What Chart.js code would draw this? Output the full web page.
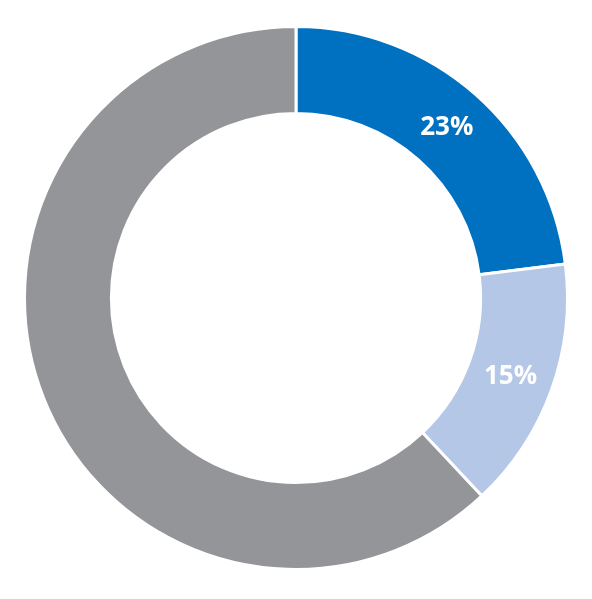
<!DOCTYPE html>
<html>
<head>
<meta charset="utf-8">
<script src="https://cdn.jsdelivr.net/npm/chart.js@4"></script>
<style>
  html, body { margin: 0; padding: 0; background: #fff; }
</style>
</head>
<body>
<canvas id="donut" width="592" height="599"></canvas>
<script>
// values
var categories = ['A', 'B', 'Other'];
var shares = [23, 15, 62];
var sliceLabels = ['23%', '15%', ''];
var colors = ['#0070c0', '#b4c7e7', '#939598'];

// writes the percentage text in the middle of each ring segment
var sliceText = {
    id: 'sliceText',
    afterDatasetsDraw: function(chart) {
        var ctx = chart.ctx;
        var meta = chart.getDatasetMeta(0);
        ctx.save();
        ctx.fillStyle = '#ffffff';
        ctx.font = 'bold 26px "Open Sans", sans-serif';
        ctx.textAlign = 'center';
        ctx.textBaseline = 'middle';
        meta.data.forEach(function(arc, i) {
            if (!sliceLabels[i]) return;
            var pos = arc.tooltipPosition();
            ctx.fillText(sliceLabels[i], pos.x, pos.y + 1);
        });
        ctx.restore();
    }
};

var chart = new Chart(document.getElementById('donut'), {
    type: 'doughnut',
    data: {
        labels: categories,
        datasets: [{
            data: shares,
            backgroundColor: colors,
            borderColor: '#ffffff',
            borderWidth: 3
        }]
    },
    options: {
        responsive: false,
        animation: false,
        cutout: '68%',
        layout: { padding: { left: 23, right: 23, top: 25, bottom: 28 } },
        plugins: {
            legend: { display: false },
            tooltip: { enabled: false }
        }
    },
    plugins: [sliceText]
});
</script>
</body>
</html>
